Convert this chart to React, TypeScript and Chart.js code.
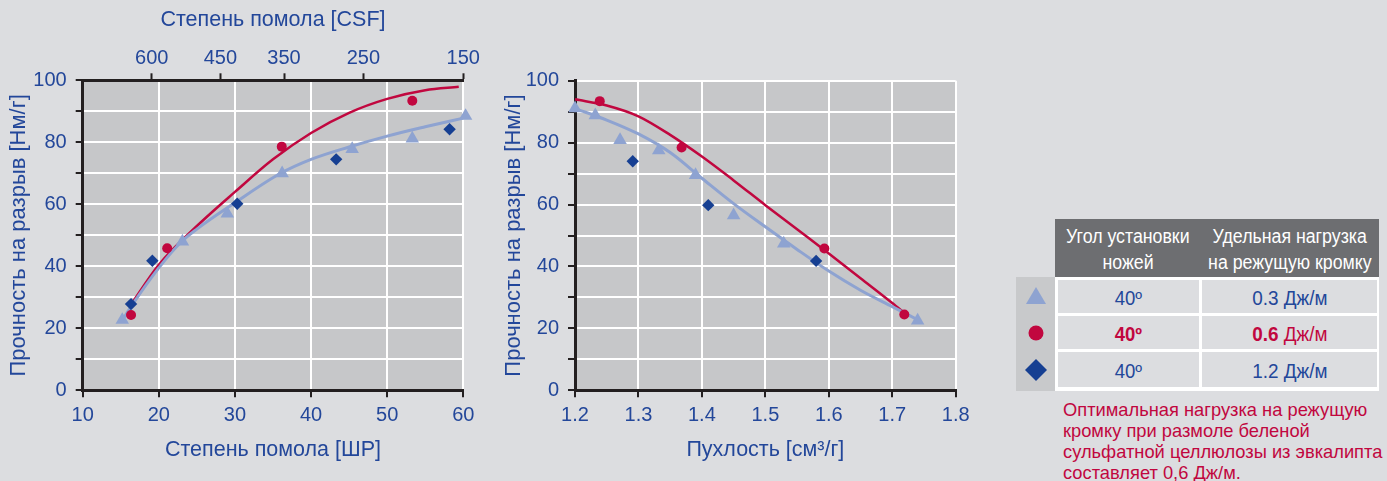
import React, { useEffect, useRef } from "react";
import { Chart, registerables } from "chart.js";

Chart.register(...registerables);

// ---------- data ----------
// Left chart: freeness (°SR) vs tensile strength
const csfTickPositions = [19.07, 28.08, 36.45, 46.87, 60];
const csfTickLabels = ["600", "450", "350", "250", "150"];

const srTriangle = [15.2, 23.1, 29.0, 36.2, 45.4, 53.3, 60.3];
const tensileTriangleL = [22.7, 48.0, 57.0, 70.0, 77.8, 81.2, 88.5];
const srCircle = [16.35, 21.1, 36.15, 53.3];
const tensileCircleL = [24.3, 45.8, 78.6, 93.4];
const srDiamond = [16.35, 19.15, 30.3, 43.3, 58.2];
const tensileDiamondL = [27.8, 41.8, 60.2, 74.5, 84.2];

const srFitRed = [16.3, 20, 25, 30, 35, 40, 45, 50, 55, 59.4];
const tensileFitRedL = [27.5, 40.5, 53, 64, 74.5, 83, 89.5, 94, 96.8, 97.9];
const srFitLight = [15.2, 16.35, 20, 23, 25, 30, 36, 40, 45, 50, 55, 60];
const tensileFitLightL = [22.5, 27, 39.5, 48, 52, 60.5, 70, 74.5, 78.5, 82, 85, 87.8];

// Right chart: bulk vs tensile strength
const bulkTriangle = [1.2, 1.232, 1.271, 1.332, 1.39, 1.45, 1.529, 1.74];
const tensileTriangleR = [91.1, 88.8, 80.8, 77.5, 69.5, 56.5, 47.4, 22.5];
const bulkCircle = [1.239, 1.368, 1.593, 1.719];
const tensileCircleR = [93.4, 78.4, 45.8, 24.5];
const bulkDiamond = [1.291, 1.41, 1.58];
const tensileDiamondR = [74.0, 59.8, 41.8];

const bulkFitRed = [1.2, 1.25, 1.3, 1.35, 1.4, 1.45, 1.5, 1.55, 1.6, 1.65, 1.7, 1.72];
const tensileFitRedR = [94, 92, 88.5, 82.5, 75.5, 67.8, 59.8, 52, 44.2, 36.2, 28.2, 24.8];
const bulkFitLight = [1.2, 1.25, 1.3, 1.35, 1.4, 1.45, 1.5, 1.55, 1.6, 1.65, 1.7, 1.74];
const tensileFitLightR = [91, 87.3, 82.8, 76.8, 68.5, 60.3, 52.8, 45.5, 38.5, 32.3, 27, 22.8];

// Legend table
const legendAngles = ["40º", "40º", "40º"];
const legendLoads = ["0.3", "0.6", "1.2"];
const legendUnit = "Дж/м";

// ---------- styles ----------
const FONT = '"Liberation Sans", Arial, sans-serif';
const TEXT_BLUE = "#23479a";
const RED = "#c1073f";
const LIGHT = "#8ea3d1";
const DARK = "#163f92";
const PLOT_BG = "#c6c7c9";
const PAGE_BG = "#dcdde0";
const AXIS = "#231f20";
const HEADER_GRAY = "#6d6e71";
const MARKER_COL = "#c8c9cb";

const Y_TITLE = "Прочность на разрыв [Нм/г]";

const tickFont = { family: FONT, size: 20 };
const xTitleFont = { family: FONT, size: 21.5 };
const yTitleFont = { family: FONT, size: 22 };

const bgPlugin = {
  id: "plotBg",
  beforeDraw(chart: any) {
    const { ctx, chartArea: a } = chart;
    ctx.save();
    ctx.fillStyle = PLOT_BG;
    ctx.fillRect(a.left, a.top, a.right - a.left, a.bottom - a.top);
    ctx.restore();
  },
};

function pts(xs: number[], ys: number[]) {
  return xs.map((x, i) => ({ x, y: ys[i] }));
}

function datasets(fitRed: any[], fitLight: any[], tri: any[], cir: any[], dia: any[]) {
  return [
    { data: tri, pointStyle: "triangle", pointRadius: 7.8, backgroundColor: LIGHT, borderColor: LIGHT, borderWidth: 0, showLine: false, clip: false, order: 0 },
    { data: cir, pointStyle: "circle", pointRadius: 5, backgroundColor: RED, borderColor: RED, borderWidth: 0, showLine: false, clip: false, order: 0 },
    { data: dia, pointStyle: "rectRot", pointRadius: 6.2, backgroundColor: DARK, borderColor: DARK, borderWidth: 0, showLine: false, clip: false, order: 0 },
    { data: fitLight, showLine: true, pointRadius: 0, borderColor: LIGHT, borderWidth: 3, cubicInterpolationMode: "monotone", fill: false, clip: false, order: 1 },
    { data: fitRed, showLine: true, pointRadius: 0, borderColor: RED, borderWidth: 2.5, cubicInterpolationMode: "monotone", fill: false, clip: false, order: 1 },
  ];
}

function yAxis(titlePadTop: number, width: number) {
  return {
    type: "linear",
    position: "left",
    min: 0,
    max: 100,
    ticks: {
      stepSize: 10,
      autoSkip: false,
      color: TEXT_BLUE,
      font: tickFont,
      padding: 9,
      callback: (v: number) => (v % 20 === 0 ? String(v) : ""),
    },
    grid: { color: "#ffffff", lineWidth: 2, tickColor: AXIS, tickLength: 7, tickWidth: 2 },
    border: { color: AXIS, width: 3 },
    title: { display: true, text: Y_TITLE, color: TEXT_BLUE, font: yTitleFont, padding: { top: titlePadTop, bottom: 0 } },
    afterFit: (s: any) => {
      s.width = width;
    },
  };
}

function xAxis(min: number, max: number, step: number, title: string, fmt: (v: number) => string) {
  return {
    type: "linear",
    position: "bottom",
    min,
    max,
    ticks: { stepSize: step, autoSkip: false, maxRotation: 0, color: TEXT_BLUE, font: tickFont, padding: 6, callback: (v: number) => fmt(v) },
    grid: { color: "#ffffff", lineWidth: 2, tickColor: AXIS, tickLength: 7, tickWidth: 2 },
    border: { color: AXIS, width: 3 },
    title: { display: true, text: title, color: TEXT_BLUE, font: xTitleFont, padding: { top: 0, bottom: 18 } },
    afterFit: (s: any) => {
      s.height = 90.7;
    },
  };
}

function leftConfig(): any {
  return {
    type: "scatter",
    data: {
      datasets: datasets(
        pts(srFitRed, tensileFitRedL),
        pts(srFitLight, tensileFitLightL),
        pts(srTriangle, tensileTriangleL),
        pts(srCircle, tensileCircleL),
        pts(srDiamond, tensileDiamondL)
      ),
    },
    options: {
      animation: false,
      responsive: false,
      devicePixelRatio: 1,
      layout: { padding: { left: 0, top: 0, right: 26.7, bottom: 0 } },
      plugins: { legend: { display: false }, tooltip: { enabled: false } },
      scales: {
        x: xAxis(10, 60, 10, "Степень помола [ШР]", (v) => String(v)),
        xTop: {
          type: "linear",
          position: "top",
          min: 10,
          max: 60,
          afterBuildTicks: (s: any) => {
            s.ticks = csfTickPositions.map((v) => ({ value: v }));
          },
          ticks: {
            autoSkip: false,
            maxRotation: 0,
            color: TEXT_BLUE,
            font: tickFont,
            padding: 3,
            callback: (_v: number, i: number) => csfTickLabels[i],
          },
          grid: { drawOnChartArea: false, tickColor: AXIS, tickLength: 7, tickWidth: 2 },
          border: { color: AXIS, width: 3 },
          title: { display: true, text: "Степень помола [CSF]", color: TEXT_BLUE, font: xTitleFont, padding: { top: 7, bottom: 0 } },
          afterFit: (s: any) => {
            s.height = 80.3;
          },
        },
        y: yAxis(6, 82.7),
      },
    },
    plugins: [bgPlugin],
  };
}

function rightConfig(): any {
  return {
    type: "scatter",
    data: {
      datasets: datasets(
        pts(bulkFitRed, tensileFitRedR),
        pts(bulkFitLight, tensileFitLightR),
        pts(bulkTriangle, tensileTriangleR),
        pts(bulkCircle, tensileCircleR),
        pts(bulkDiamond, tensileDiamondR)
      ),
    },
    options: {
      animation: false,
      responsive: false,
      devicePixelRatio: 1,
      layout: { padding: { left: 0, top: 80.7, right: 24.3, bottom: 0 } },
      plugins: { legend: { display: false }, tooltip: { enabled: false } },
      scales: {
        x: xAxis(1.2, 1.8, 0.1, "Пухлость [см³/г]", (v) => v.toFixed(1)),
        y: yAxis(10.5, 85),
      },
    },
    plugins: [bgPlugin],
  };
}

function ChartCanvas({ make }: { make: () => any }) {
  const ref = useRef<HTMLCanvasElement | null>(null);
  useEffect(() => {
    const chart = new Chart(ref.current as HTMLCanvasElement, make());
    return () => chart.destroy();
  }, []);
  return <canvas ref={ref} width={490} height={481} style={{ display: "block", width: 490, height: 481 }} />;
}

function Marker({ kind }: { kind: number }) {
  if (kind === 0)
    return (
      <svg width="22" height="20" viewBox="0 0 22 20">
        <polygon points="11,1 21,18 1,18" fill={LIGHT} />
      </svg>
    );
  if (kind === 1)
    return (
      <svg width="18" height="18" viewBox="0 0 18 18">
        <circle cx="9" cy="9" r="7.5" fill={RED} />
      </svg>
    );
  return (
    <svg width="24" height="24" viewBox="0 0 24 24">
      <polygon points="12,1 23,12 12,23 1,12" fill={DARK} />
    </svg>
  );
}

const rowTops = [280, 316, 352.3];
const rowHeights = [32.7, 33.3, 35];

const narrow = (scale: number, origin = "center"): React.CSSProperties => ({
  display: "inline-block",
  transform: `scaleX(${scale})`,
  transformOrigin: origin,
  whiteSpace: "nowrap",
});

export default function App() {
  return (
    <div
      style={{
        position: "fixed",
        left: 0,
        top: 0,
        width: 1387,
        height: 481,
        background: PAGE_BG,
        overflow: "hidden",
        fontFamily: FONT,
      }}
    >
      <div style={{ position: "absolute", left: 0, top: 0 }}>
        <ChartCanvas make={leftConfig} />
      </div>
      <div style={{ position: "absolute", left: 490, top: 0 }}>
        <ChartCanvas make={rightConfig} />
      </div>

      {/* legend header */}
      <div
        style={{
          position: "absolute",
          left: 1055.3,
          top: 219,
          width: 324,
          height: 57.7,
          background: HEADER_GRAY,
          color: "#ffffff",
          fontSize: 19.5,
          lineHeight: "26px",
        }}
      >
        <div style={{ position: "absolute", left: -10, top: 4, width: 165, textAlign: "center" }}>
          <span style={narrow(0.91)}>Угол установки</span>
          <br />
          <span style={narrow(0.91)}>ножей</span>
        </div>
        <div style={{ position: "absolute", left: 140, top: 4, width: 189, textAlign: "center" }}>
          <span style={narrow(0.91)}>Удельная нагрузка</span>
          <br />
          <span style={narrow(0.91)}>на режущую кромку</span>
        </div>
      </div>

      {/* marker column */}
      <div style={{ position: "absolute", left: 1016, top: 276.7, width: 39.3, height: 114.3, background: MARKER_COL }} />
      {/* white grid */}
      <div style={{ position: "absolute", left: 1055.3, top: 276.7, width: 324, height: 114.3, background: "#ffffff" }} />

      {legendAngles.map((a, i) => {
        const bold = i === 1;
        const color = bold ? RED : TEXT_BLUE;
        return (
          <React.Fragment key={i}>
            <div
              style={{
                position: "absolute",
                left: 1016,
                top: rowTops[i],
                width: 39.3,
                height: rowHeights[i],
                display: "flex",
                alignItems: "center",
                justifyContent: "center",
              }}
            >
              <Marker kind={i} />
            </div>
            <div
              style={{
                position: "absolute",
                left: 1058.3,
                top: rowTops[i],
                width: 140.7,
                height: rowHeights[i],
                background: PAGE_BG,
                display: "flex",
                alignItems: "center",
                justifyContent: "center",
                fontSize: 19.5,
                color,
                fontWeight: bold ? "bold" : "normal",
              }}
            >
              <span style={{ ...narrow(0.95), position: "relative", top: 2 }}>{a}</span>
            </div>
            <div
              style={{
                position: "absolute",
                left: 1202,
                top: rowTops[i],
                width: 174.7,
                height: rowHeights[i],
                background: PAGE_BG,
                display: "flex",
                alignItems: "center",
                justifyContent: "center",
                fontSize: 19.5,
                color,
              }}
            >
              <span style={{ ...narrow(0.97), position: "relative", top: 2 }}>
                <span style={{ fontWeight: bold ? "bold" : "normal" }}>{legendLoads[i]}</span>
                {" " + legendUnit}
              </span>
            </div>
          </React.Fragment>
        );
      })}

      {/* note */}
      <div
        style={{
          position: "absolute",
          left: 1063.3,
          top: 399,
          width: 330,
          color: RED,
          fontSize: 19,
          lineHeight: "21px",
          whiteSpace: "nowrap",
        }}
      >
        <span style={narrow(0.963, "left")}>Оптимальная нагрузка на режущую</span>
        <br />
        <span style={narrow(0.963, "left")}>кромку при размоле беленой</span>
        <br />
        <span style={narrow(0.963, "left")}>сульфатной целлюлозы из эвкалипта</span>
        <br />
        <span style={narrow(0.963, "left")}>составляет 0,6 Дж/м.</span>
      </div>
    </div>
  );
}
